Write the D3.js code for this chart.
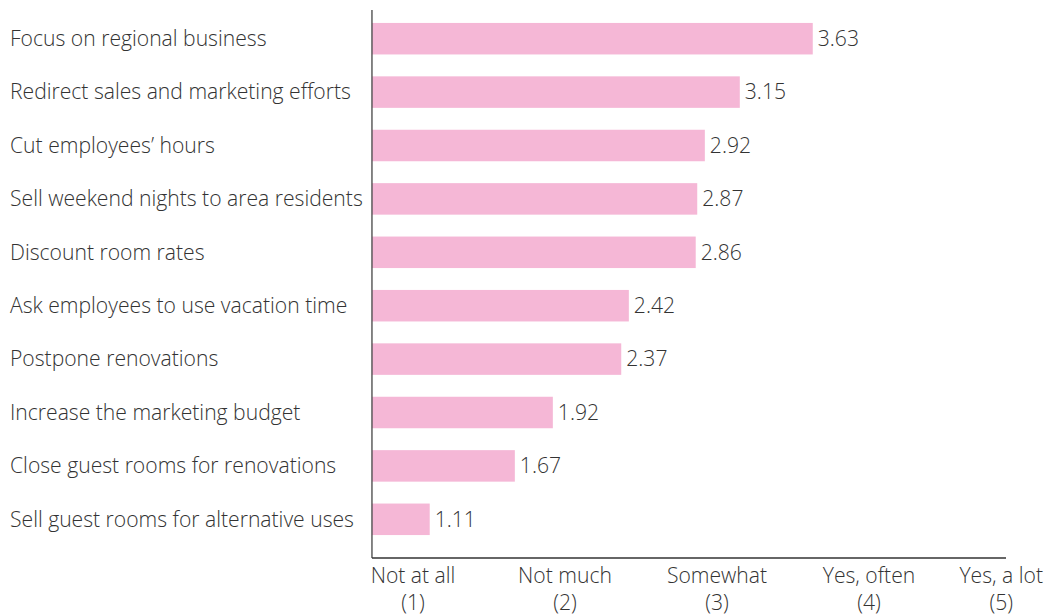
<!DOCTYPE html>
<html>
<head>
<meta charset="utf-8">
<script src="https://cdn.jsdelivr.net/npm/d3@7"></script>
<style>
  html, body { margin: 0; padding: 0; background: #fff; }
  svg { display: block; }
  text { font-family: "Open Sans", "Liberation Sans", sans-serif; font-weight: 300; fill: #333; }
</style>
</head>
<body>
<svg id="chart" width="1046" height="616"></svg>
<script>
const categories = [
  "Focus on regional business",
  "Redirect sales and marketing efforts",
  "Cut employees\u2019 hours",
  "Sell weekend nights to area residents",
  "Discount room rates",
  "Ask employees to use vacation time",
  "Postpone renovations",
  "Increase the marketing budget",
  "Close guest rooms for renovations",
  "Sell guest rooms for alternative uses"
];
const values = [3.63, 3.15, 2.92, 2.87, 2.86, 2.42, 2.37, 1.92, 1.67, 1.11];
const tickValues = [1, 2, 3, 4, 5];
const tickLabels = ["Not at all", "Not much", "Somewhat", "Yes, often", "Yes, a lot"];
const axisMin = 0.73;

const W = 1046, H = 616;
const svg = d3.select("#chart");

// fit font size so the longest label spans ~353px (as in reference)
const probe = svg.append("text").style("font-size", "20px").text(categories[3]);
const fs = 20 * 353 / probe.node().getComputedTextLength();
probe.remove();
const FS = fs + "px";

const x = d3.scaleLinear().domain([1, 5]).range([413, 1021]);
const y = d3.scaleBand().domain(categories).range([12, 546]).paddingInner(0.41).paddingOuter(0.205);

const xAxisLeft = x(axisMin);
const axisY = 558;

svg.append("g").selectAll("rect").data(values).join("rect")
  .attr("x", xAxisLeft)
  .attr("y", (d, i) => y(categories[i]))
  .attr("width", d => x(d) - xAxisLeft)
  .attr("height", y.bandwidth())
  .attr("fill", "#f5b7d6");

svg.append("g").selectAll("text").data(values).join("text")
  .attr("x", d => x(d) + 5)
  .attr("y", (d, i) => y(categories[i]) + y.bandwidth() / 2)
  .attr("dy", "0.35em")
  .style("font-size", FS)
  .text(d => d.toFixed(2));

svg.append("g").selectAll("text").data(categories).join("text")
  .attr("x", 10)
  .attr("y", d => y(d) + y.bandwidth() / 2)
  .attr("dy", "0.35em")
  .style("font-size", FS)
  .text(d => d);

svg.append("line")
  .attr("x1", xAxisLeft).attr("x2", xAxisLeft)
  .attr("y1", 10).attr("y2", axisY)
  .attr("stroke", "#444").attr("stroke-width", 1.3);
svg.append("line")
  .attr("x1", xAxisLeft).attr("x2", 1006)
  .attr("y1", axisY).attr("y2", axisY)
  .attr("stroke", "#333").attr("stroke-width", 1.3);

// two-line tick labels
svg.append("g").selectAll("text").data(tickValues).join("text")
  .attr("text-anchor", "middle")
  .style("font-size", FS)
  .each(function(v, i) {
    const t = d3.select(this);
    const s1 = t.append("tspan").attr("y", 583).text(tickLabels[i]);
    const half = s1.node().getComputedTextLength() / 2;
    const cx = Math.min(x(v), W - 3 - half);
    s1.attr("x", cx);
    t.append("tspan").attr("x", cx).attr("y", 610).text("(" + v + ")");
  });
</script>
</body>
</html>
